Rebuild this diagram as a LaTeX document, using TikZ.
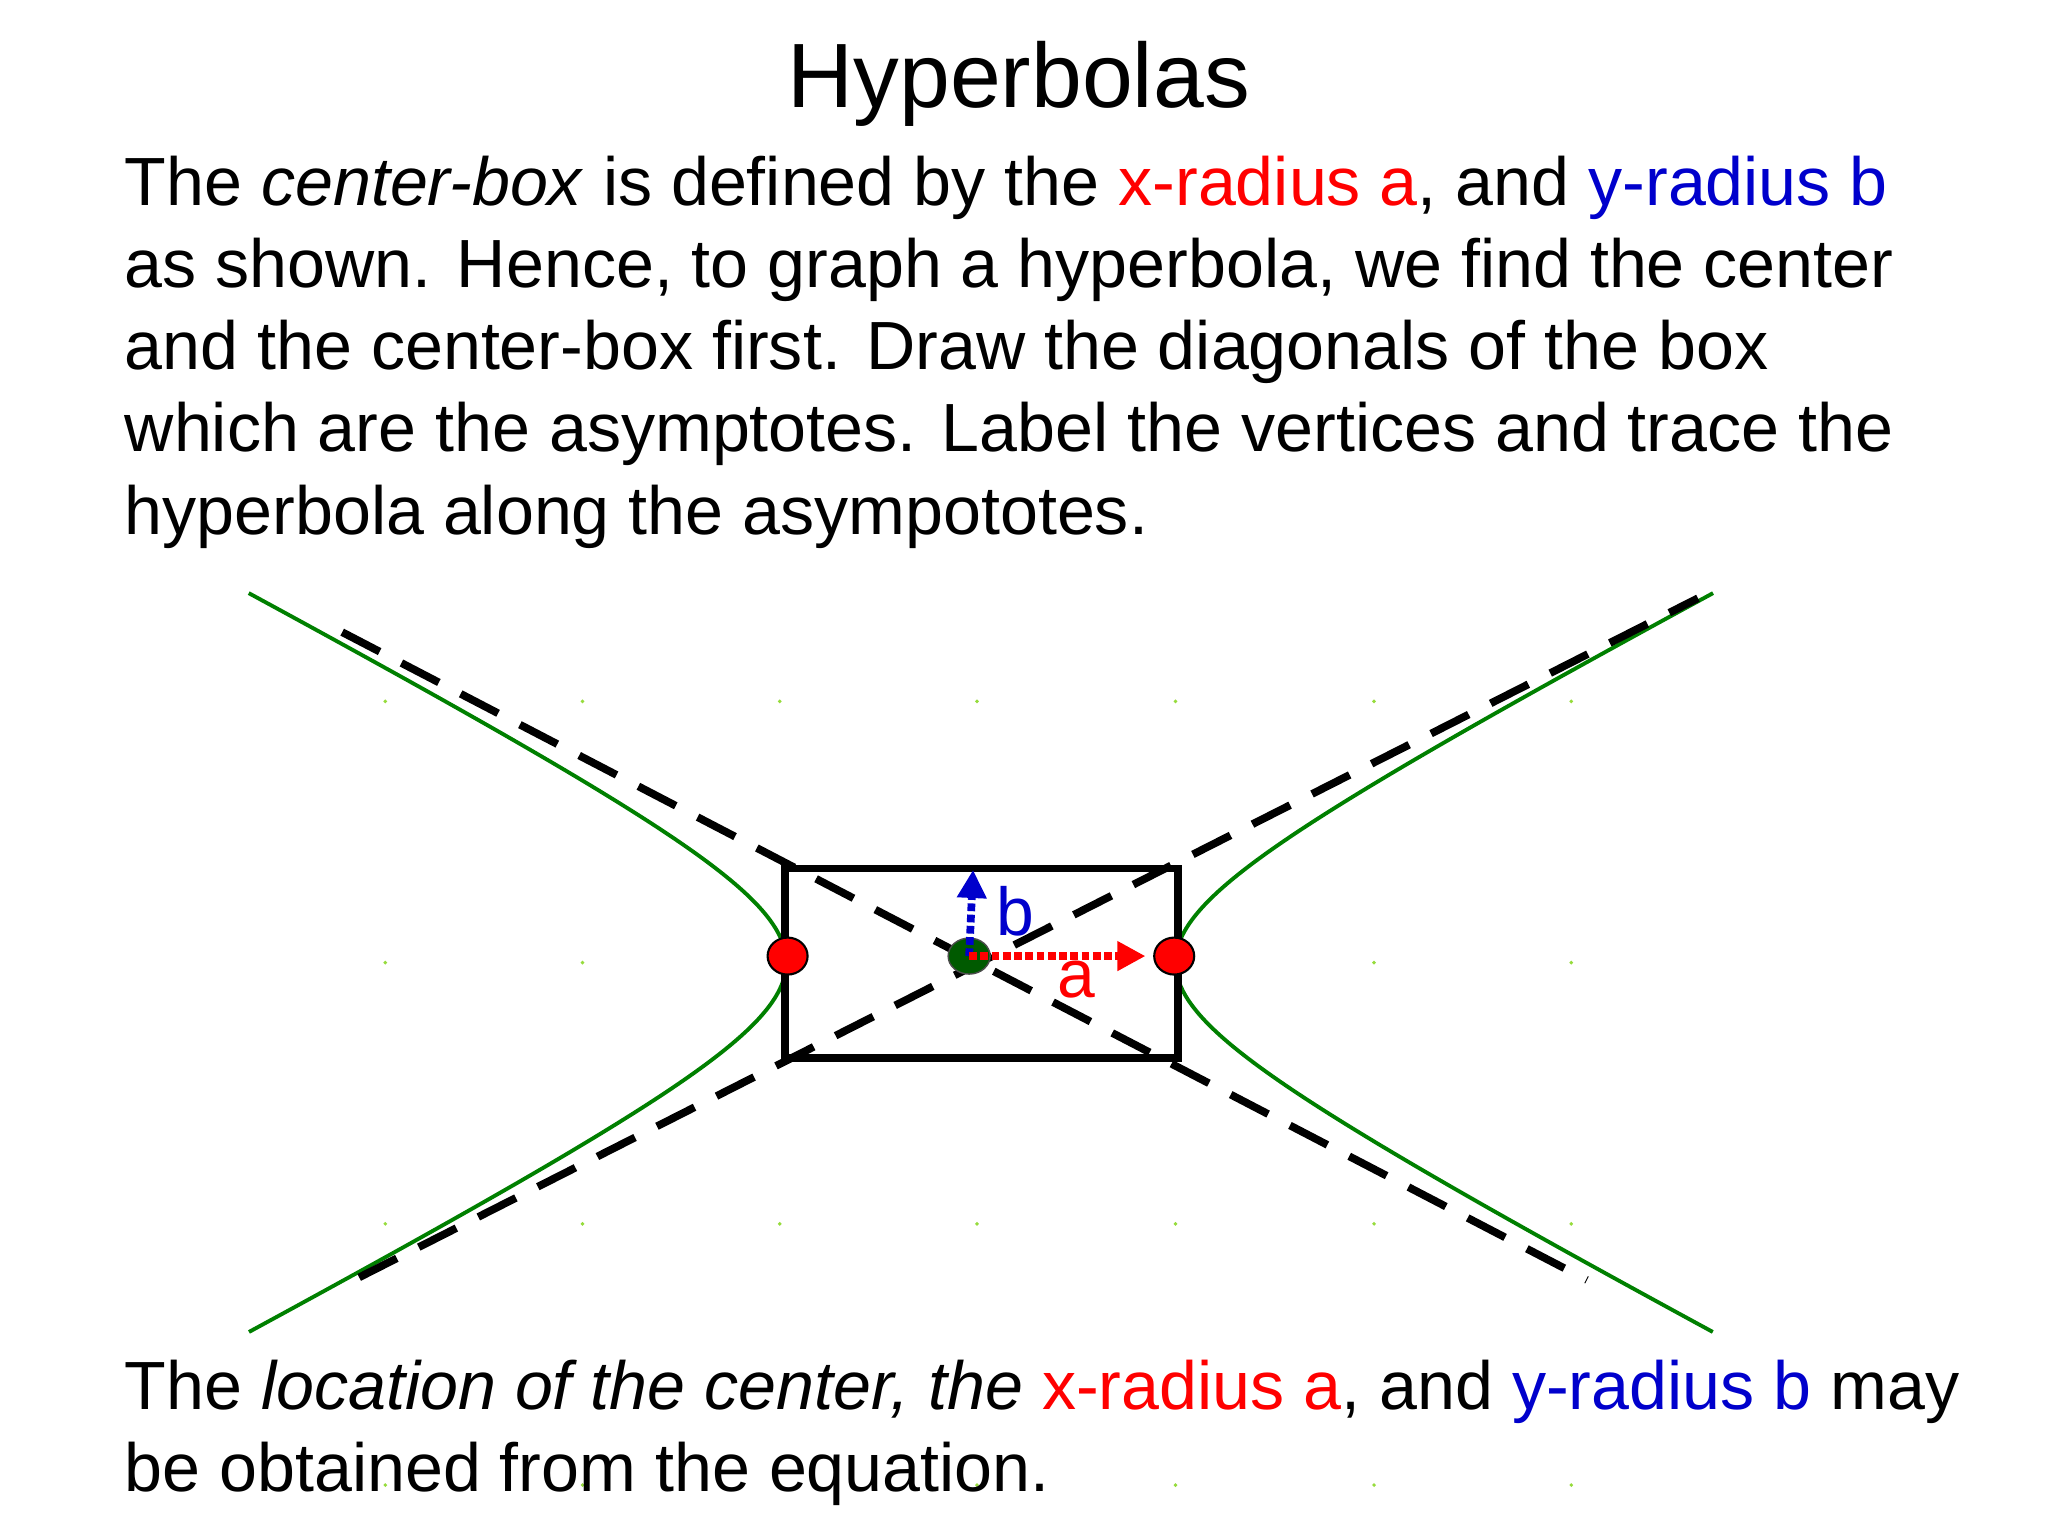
\documentclass[tikz,border=0pt]{standalone}
\usepackage{fontspec}
\setmainfont{Liberation Sans}
\usetikzlibrary{arrows.meta,shapes.geometric}
\definecolor{hred}{RGB}{255,0,0}
\definecolor{hblue}{RGB}{0,0,204}
\definecolor{hgreen}{RGB}{0,128,0}
\definecolor{griddot}{RGB}{150,220,60}
\tikzset{
 body/.style={anchor=base west,inner sep=0pt,font=\fontsize{19.4}{23.4}\selectfont},
 asym/.style={draw=black,line width=2.2pt,dash pattern=on 12pt off 7pt},
 hyp/.style={draw=hgreen,line width=1.1pt},
 vert/.style={ellipse,draw=black,fill=hred,minimum width=0.4cm,minimum height=0.37cm,inner sep=0pt,line width=0.6pt},
}
\begin{document}
\begin{tikzpicture}[x=0.01306cm,y=-0.01306cm]
\useasboundingbox[fill=white] (0,0) rectangle (1568,1176);
\foreach \gx in {295,446,597,748,900,1052,1203}{
 \foreach \gy in {537,737,937,1137}{
  \fill[griddot] (\gx,\gy) circle (1.5);
 }}
\node[anchor=base,inner sep=0pt,font=\fontsize{26}{30}\selectfont] (title) at (780,82) {Hyperbolas};
\node[body] (l1) at (95,157) {The \textit{center-box} is defined by the \textcolor{hred}{x-radius a}, and \textcolor{hblue}{y-radius b}};
\node[body] (l2) at (95,220) {as shown. Hence, to graph a hyperbola, we find the center};
\node[body] (l3) at (95,283) {and the center-box first. Draw the diagonals of the box};
\node[body] (l4) at (95,346) {which are the asymptotes. Label the vertices and trace the};
\node[body] (l5) at (95,409) {hyperbola along the asympototes.};
\node[body] (m1) at (95,1079) {The \textit{location of the center, the} \textcolor{hred}{x-radius a}, and \textcolor{hblue}{y-radius b} may};
\node[body] (m2) at (95,1142) {be obtained from the equation.};
\draw[hyp] plot[domain=-2.0:2.0,samples=80,smooth] ({751+149*cosh(\x)},{737+78*sinh(\x)});
\draw[hyp] plot[domain=-2.0:2.0,samples=80,smooth] ({751-149*cosh(\x)},{737+78*sinh(\x)});
\coordinate (a1) at (262,484); \coordinate (a2) at (1215,980);
\coordinate (b1) at (275,978); \coordinate (b2) at (1300,458);
\draw[asym] (a1) -- (a2);
\draw[asym] (b1) -- (b2);
\draw[line width=2.2pt] (601,665) rectangle (902,810);
\node[ellipse,draw=black!70,fill=hgreen!70!black,minimum width=0.42cm,minimum height=0.36cm,inner sep=0pt] (c) at (742,732) {};
\coordinate (bt) at (745,666);
\coordinate (at) at (877,732);
\draw[hblue,line width=2.2pt,densely dotted,-{Triangle[length=8pt,width=8pt]}] (c.center) -- (bt);
\draw[hred,line width=2.2pt,densely dotted,-{Triangle[length=8pt,width=8pt]}] (c.center) -- (at);
\node[vert] (v1) at (603,732) {};
\node[vert] (v2) at (899,732) {};
\node[inner sep=0pt,text=hblue,font=\fontsize{19.3}{23}\selectfont] (lb) at (777,698) {b};
\node[inner sep=0pt,text=hred,font=\fontsize{19.3}{23}\selectfont] (la) at (824,750) {a};
\end{tikzpicture}
\end{document}
